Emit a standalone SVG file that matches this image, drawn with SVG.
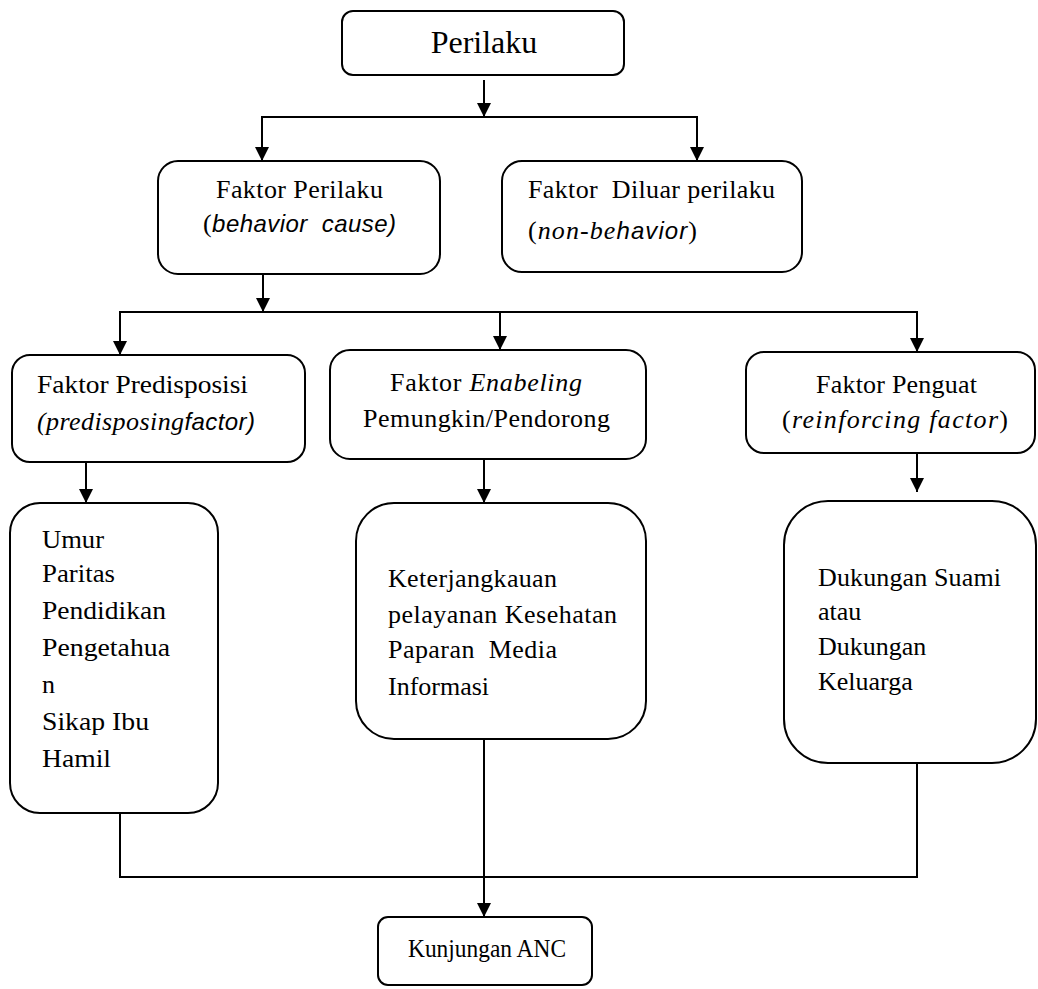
<svg xmlns="http://www.w3.org/2000/svg" width="1038" height="989" viewBox="0 0 1038 989">
<style>
.box{fill:#fff;stroke:#000;stroke-width:2}
.ln{fill:none;stroke:#000;stroke-width:2}
.t{font-family:"Liberation Serif","Times New Roman",serif;font-size:26px;fill:#000}
.big{font-size:32px}
.i{font-style:italic}
.s{font-family:"Liberation Sans",Arial,sans-serif;font-style:italic}
.m{text-anchor:middle}
</style>
<defs>
<marker id="ah" viewBox="0 0 10 10" refX="10" refY="5" markerWidth="14" markerHeight="14" markerUnits="userSpaceOnUse" orient="auto" preserveAspectRatio="none">
<path d="M0,0 L10,5 L0,10 z" fill="#000"/>
</marker>
</defs>
<g id="connectors">
<line class="ln" x1="484" y1="80" x2="484" y2="117" marker-end="url(#ah)"/>
<polyline class="ln" points="262,140 262,117 697,117 697,140"/>
<line class="ln" x1="262" y1="125" x2="262" y2="161" marker-end="url(#ah)"/>
<line class="ln" x1="697" y1="125" x2="697" y2="161" marker-end="url(#ah)"/>
<line class="ln" x1="263" y1="274" x2="263" y2="312" marker-end="url(#ah)"/>
<polyline class="ln" points="120,330 120,312 917,312 917,330"/>
<line class="ln" x1="120" y1="318" x2="120" y2="355" marker-end="url(#ah)"/>
<line class="ln" x1="500" y1="312" x2="500" y2="350" marker-end="url(#ah)"/>
<line class="ln" x1="917" y1="318" x2="917" y2="352" marker-end="url(#ah)"/>
<line class="ln" x1="86" y1="462" x2="86" y2="503" marker-end="url(#ah)"/>
<line class="ln" x1="484" y1="459" x2="484" y2="503" marker-end="url(#ah)"/>
<line class="ln" x1="917" y1="453" x2="917" y2="492" marker-end="url(#ah)"/>
<polyline class="ln" points="120,813 120,877 917,877 917,763"/>
<line class="ln" x1="484" y1="739" x2="484" y2="917" marker-end="url(#ah)"/>
</g>
<g id="perilaku">
<rect class="box" x="342" y="11" width="282" height="64" rx="11"/>
<text class="t big m" x="484" y="53">Perilaku</text>
</g>
<g id="faktor-perilaku">
<rect class="box" x="158" y="161" width="282" height="113" rx="20"/>
<text class="t" x="216" y="198" textLength="167" lengthAdjust="spacing">Faktor Perilaku</text>
<text class="t" x="203" y="232" xml:space="preserve" textLength="193" lengthAdjust="spacing">(<tspan class="s" font-size="24">behavior  cause)</tspan></text>
</g>
<g id="faktor-diluar">
<rect class="box" x="502" y="161" width="300" height="111" rx="20"/>
<text class="t" x="528" y="198" xml:space="preserve" textLength="247" lengthAdjust="spacing">Faktor  Diluar perilaku</text>
<text class="t" x="528" y="239" textLength="169" lengthAdjust="spacing">(<tspan class="i">non-be</tspan><tspan class="s" font-size="24">havior</tspan>)</text>
</g>
<g id="predisposisi">
<rect class="box" x="12" y="355" width="293" height="107" rx="18"/>
<text class="t" x="37" y="393" textLength="211" lengthAdjust="spacingAndGlyphs">Faktor Predisposisi</text>
<text class="t" x="37" y="430" textLength="218" lengthAdjust="spacing"><tspan class="i">(predisposing</tspan><tspan class="s" font-size="24">factor)</tspan></text>
</g>
<g id="enabeling">
<rect class="box" x="330" y="350" width="316" height="109" rx="20"/>
<text class="t" x="390" y="391" textLength="192" lengthAdjust="spacing">Faktor <tspan class="i">Enabeling</tspan></text>
<text class="t" x="363" y="427" textLength="247" lengthAdjust="spacing">Pemungkin/Pendorong</text>
</g>
<g id="penguat">
<rect class="box" x="746" y="352" width="289" height="101" rx="18"/>
<text class="t" x="816" y="393" textLength="161" lengthAdjust="spacing">Faktor Penguat</text>
<text class="t" x="782" y="428" textLength="226" lengthAdjust="spacing">(<tspan class="i">reinforcing factor</tspan>)</text>
</g>
<g id="predisposisi-items">
<rect class="box" x="10" y="503" width="208" height="310" rx="30"/>
<text class="t" x="42" y="548" textLength="62" lengthAdjust="spacingAndGlyphs">Umur</text>
<text class="t" x="42" y="582" textLength="73" lengthAdjust="spacingAndGlyphs">Paritas</text>
<text class="t" x="42" y="619" textLength="124" lengthAdjust="spacingAndGlyphs">Pendidikan</text>
<text class="t" x="42" y="656" textLength="128" lengthAdjust="spacingAndGlyphs">Pengetahua</text>
<text class="t" x="42" y="693">n</text>
<text class="t" x="42" y="730" textLength="107" lengthAdjust="spacingAndGlyphs">Sikap Ibu</text>
<text class="t" x="42" y="767" textLength="69" lengthAdjust="spacingAndGlyphs">Hamil</text>
</g>
<g id="enabeling-items">
<rect class="box" x="356" y="503" width="290" height="236" rx="38"/>
<text class="t" x="388" y="587" textLength="169" lengthAdjust="spacing">Keterjangkauan</text>
<text class="t" x="388" y="623" textLength="229" lengthAdjust="spacing">pelayanan Kesehatan</text>
<text class="t" x="388" y="658" xml:space="preserve" textLength="169" lengthAdjust="spacing">Paparan  Media</text>
<text class="t" x="388" y="695">Informasi</text>
</g>
<g id="penguat-items">
<rect class="box" x="784" y="501" width="252" height="262" rx="44"/>
<text class="t" x="818" y="586" textLength="183" lengthAdjust="spacing">Dukungan Suami</text>
<text class="t" x="818" y="620">atau</text>
<text class="t" x="818" y="655">Dukungan</text>
<text class="t" x="818" y="690">Keluarga</text>
</g>
<g id="kunjungan">
<rect class="box" x="378" y="917" width="214" height="68" rx="10"/>
<text class="t" x="408" y="957" textLength="158" lengthAdjust="spacingAndGlyphs">Kunjungan ANC</text>
</g>
</svg>
